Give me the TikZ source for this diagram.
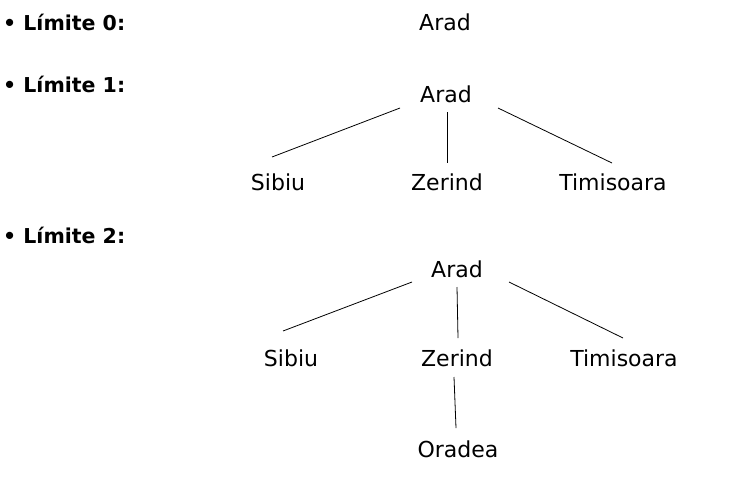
\documentclass[tikz,border=0pt]{standalone}
\usepackage{fontspec}
\setmainfont{DejaVu Sans}
\begin{document}
\begin{tikzpicture}[x=1pt,y=-1pt,
  city/.style={anchor=base,inner sep=0pt,font=\fontsize{22}{26}\selectfont},
  lbl/.style={anchor=base west,inner sep=0pt,font=\fontsize{20.5}{24}\selectfont\bfseries},
  edge/.style={line width=0.8pt}]
\useasboundingbox (0,0) rectangle (735,493);
% labels
\node[lbl] (l0) at (3,30) {\textbullet\ Límite 0:};
\node[lbl] (l1) at (3,92) {\textbullet\ Límite 1:};
\node[lbl] (l2) at (3,243) {\textbullet\ Límite 2:};
% level 0
\node[city] (a0) at (445,30) {Arad};
% level 1
\node[city] (a1) at (446,102) {Arad};
\node[city] (s1) at (278,190) {Sibiu};
\node[city] (z1) at (447,190) {Zerind};
\node[city] (t1) at (613,190) {Timisoara};
\coordinate (a1s) at (400,108);
\coordinate (a1z) at (447,112);
\coordinate (a1t) at (498,108);
\coordinate (s1n) at (272,157);
\coordinate (z1n) at (447,163);
\coordinate (t1n) at (612,163);
\draw[edge] (a1s) -- (s1n);
\draw[edge] (a1z) -- (z1n);
\draw[edge] (a1t) -- (t1n);
% level 2
\node[city] (a2) at (457,277) {Arad};
\node[city] (s2) at (291,366) {Sibiu};
\node[city] (z2) at (457,366) {Zerind};
\node[city] (t2) at (624,366) {Timisoara};
\node[city] (o2) at (458,457) {Oradea};
\coordinate (a2s) at (412,282);
\coordinate (a2z) at (457,287);
\coordinate (a2t) at (509,282);
\coordinate (s2n) at (283,331);
\coordinate (z2n) at (458,338);
\coordinate (t2n) at (623,338);
\coordinate (z2o) at (454,377);
\coordinate (o2n) at (456,428);
\draw[edge] (a2s) -- (s2n);
\draw[edge] (a2z) -- (z2n);
\draw[edge] (a2t) -- (t2n);
\draw[edge] (z2o) -- (o2n);
\end{tikzpicture}
\end{document}
